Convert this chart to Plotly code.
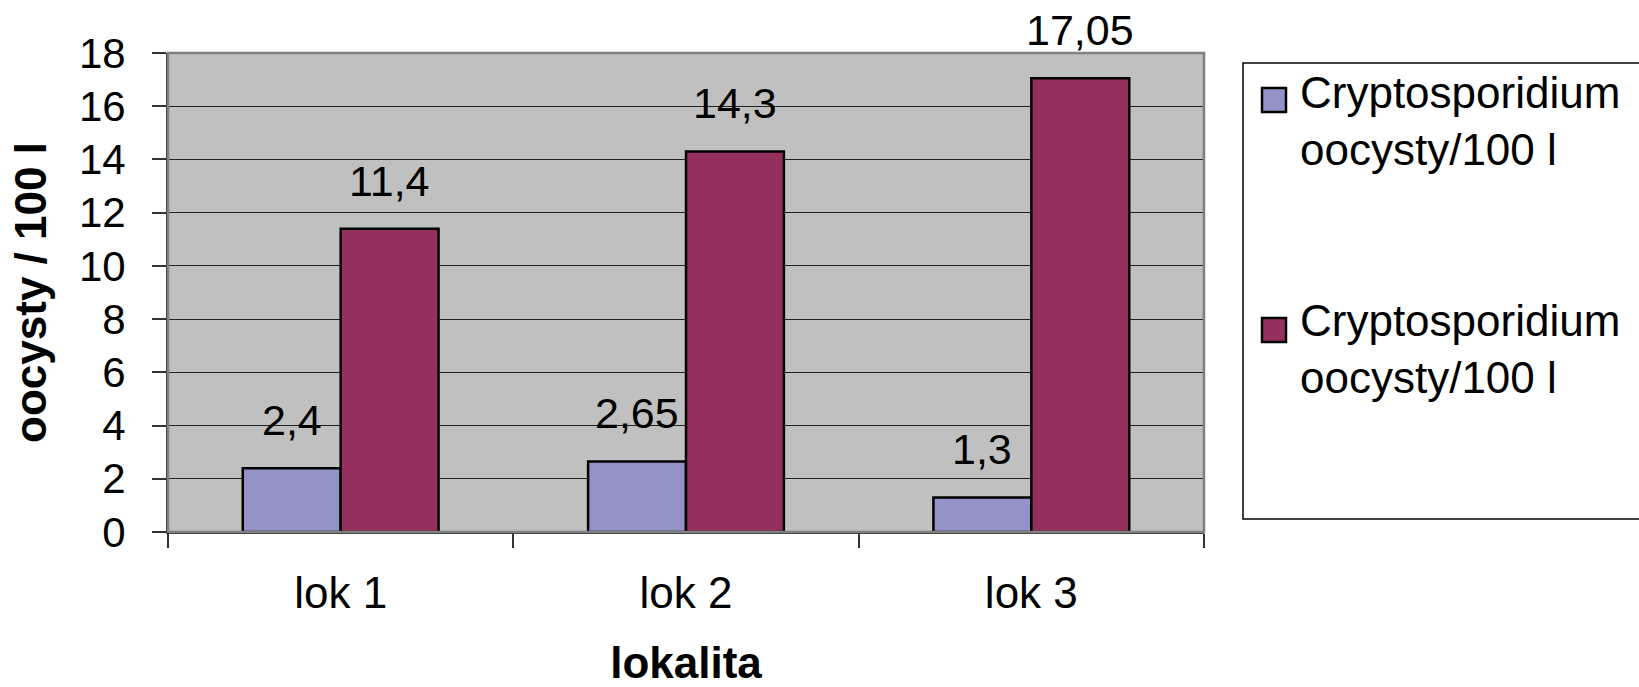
import plotly.graph_objects as go

# --- data ---------------------------------------------------------------
categories = ["lok 1", "lok 2", "lok 3"]
series_names = ["Cryptosporidium<br>oocysty/100 l", "Cryptosporidium<br>oocysty/100 l"]
values_a = [2.4, 2.65, 1.3]
values_b = [11.4, 14.3, 17.05]
y_ticks = [0, 2, 4, 6, 8, 10, 12, 14, 16, 18]

# --- styling ------------------------------------------------------------
W, H = 1639, 687
PLOT_L, PLOT_R, PLOT_T, PLOT_B = 168, 1204, 53, 532
FONT = "Arial, 'Liberation Sans', sans-serif"
COL_A = "#9393C7"
COL_B = "#93305E"
BG = "#C0C0C0"
BARGAP = 0.433

def fmt(v):
    return f"{v:g}".replace(".", ",")

fig = go.Figure()
for name, vals, col in [(series_names[0], values_a, COL_A), (series_names[1], values_b, COL_B)]:
    fig.add_trace(go.Bar(
        x=categories, y=vals, name=name,
        marker=dict(color=col, line=dict(color="black", width=2.5)),
        showlegend=False,
    ))

# value labels above each bar
half = (1 - BARGAP) / 4
annotations = []
for vals, off in [(values_a, -half), (values_b, half)]:
    for i, v in enumerate(vals):
        annotations.append(dict(
            x=i + off, y=v, xref="x", yref="y", text=fmt(v),
            showarrow=False, yanchor="bottom", yshift=22,
            font=dict(family=FONT, size=43, color="black"),
        ))

# custom legend box
pw = PLOT_R - PLOT_L
ph = PLOT_B - PLOT_T
def px_x(p):
    return (p - PLOT_L) / pw
def px_y(p):
    return (PLOT_B - p) / ph

shapes = [
    dict(type="rect", xref="paper", yref="paper",
         x0=px_x(1243), x1=px_x(1660), y0=px_y(519), y1=px_y(63),
         line=dict(color="black", width=1.5), fillcolor="white", layer="below"),
    # plot-area frame
    dict(type="rect", xref="paper", yref="paper", x0=0, x1=1, y0=0, y1=1,
         line=dict(color="#808080", width=2.5), layer="above"),
]
for sq_top, text_mid, col, name in [(88, 121, COL_A, series_names[0]),
                                    (318, 349, COL_B, series_names[1])]:
    shapes.append(dict(type="rect", xref="paper", yref="paper",
                       x0=px_x(1262), x1=px_x(1286), y0=px_y(sq_top + 24), y1=px_y(sq_top),
                       line=dict(color="black", width=2.5), fillcolor=col))
    annotations.append(dict(x=px_x(1298), y=px_y(text_mid), xref="paper", yref="paper",
                            xanchor="left", yanchor="middle", align="left", text=name,
                            showarrow=False, font=dict(family=FONT, size=44, color="black")))

fig.update_layout(
    width=W, height=H,
    margin=dict(l=PLOT_L, r=W - PLOT_R, t=PLOT_T, b=H - PLOT_B, autoexpand=False),
    paper_bgcolor="white", plot_bgcolor=BG,
    barmode="group", bargap=BARGAP, bargroupgap=0,
    font=dict(family=FONT, size=42, color="black"),
    annotations=annotations, shapes=shapes,
    xaxis=dict(
        type="category", categoryorder="array", categoryarray=categories,
        showline=True, linecolor="#333333", linewidth=2,
        ticks="outside", tickson="boundaries", ticklen=14, tickcolor="#333333", tickwidth=1.5,
        ticklabelstandoff=21, showgrid=False,
        tickfont=dict(family=FONT, size=44),
        title=dict(text="<b>lokalita</b>", font=dict(family=FONT, size=44), standoff=35),
        automargin=True,
    ),
    yaxis=dict(
        range=[0, 18], tickvals=y_ticks, ticktext=[str(t) for t in y_ticks],
        showline=True, linecolor="#333333", linewidth=2,
        ticks="outside", ticklen=14, tickcolor="#333333", tickwidth=1.5,
        ticklabelstandoff=18,
        showgrid=True, gridcolor="#222222", gridwidth=1,
        zeroline=False,
        tickfont=dict(family=FONT, size=42),
        title=dict(text="<b>oocysty / 100 l</b>", font=dict(family=FONT, size=44), standoff=18),
        automargin=True,
    ),
)

fig.write_html("out.html")
